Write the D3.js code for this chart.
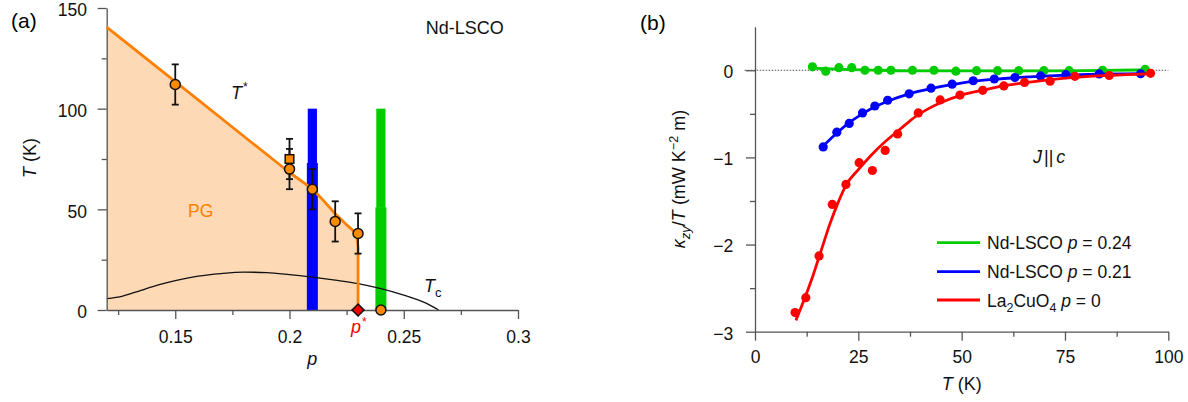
<!DOCTYPE html>
<html><head><meta charset="utf-8">
<script src="https://cdn.jsdelivr.net/npm/d3@7"></script>
<style>
body{margin:0;background:#fff;}
svg{display:block;font-family:"Liberation Sans",Arial,Helvetica,sans-serif;}
</style></head><body>
<svg id="chart" width="1188" height="402"></svg>
<script>
// ---------- panel (a): Nd-LSCO phase diagram ----------
const pTicks = [0.15, 0.2, 0.25, 0.3];
const pMinorTicks = [0.125, 0.175, 0.225, 0.275];
const tTicksA = [0, 50, 100, 150];
const tMinorTicksA = [25, 75, 125];

// pseudogap boundary T*(p), ending vertically at p*
const tStarP = [0.12, 0.15, 0.18, 0.20, 0.21, 0.215, 0.22, 0.225, 0.228, 0.2295, 0.23, 0.23];
const tStarT = [140.5, 113.4, 86.3, 68.3, 60.2, 54.2, 47.8, 42.3, 39.3, 36.5, 31, 0];

// superconducting dome Tc(p)
const tcP = [0.12, 0.127, 0.135, 0.143, 0.15, 0.16, 0.17, 0.18, 0.19, 0.2, 0.21, 0.22, 0.23, 0.24, 0.25, 0.26, 0.2653];
const tcT = [5.6, 6.9, 9.8, 12.6, 14.6, 16.8, 18.1, 18.8, 18.6, 17.6, 16.3, 14.8, 13.1, 10.6, 7.4, 3.3, 0];

// T* from measurements (circles) with error bars
const onsetP = [0.15, 0.20, 0.21, 0.22, 0.23];
const onsetT = [112, 70, 60, 44, 38];
const onsetErr = [10, 10, 10, 10, 10];
// T* from a second probe (square)
const squareP = [0.20];
const squareT = [75];
const squareErr = [10];
// critical point p* and the p = 0.24 sample at T = 0
const pStar = 0.23;
const groundP = [0.24];

// dopings of the thermal Hall samples
const barP = [0.21, 0.24];
const barBreakT = [73, 51];
const barTopT = [100, 100];
const barColors = ["#0000ff", "#00cc00"];

// ---------- panel (b): kappa_zy / T ----------
const tTicksB = [0, 25, 50, 75, 100];
const tMinorTicksB = [12.5, 37.5, 62.5, 87.5];
const kTicks = [0, -1, -2, -3];
const kMinorTicks = [-0.5, -1.5, -2.5];

const green24T = [13.9, 17.1, 20.3, 23.4, 26.6, 29.8, 32.9, 38.1, 43.3, 48.6, 53.6, 58.7, 63.8, 69.9, 76.0, 84.1, 94.4];
const green24K = [0.04, -0.01, 0.03, 0.03, 0.0, 0.0, 0.0, 0.0, 0.0, -0.01, -0.005, -0.005, -0.005, -0.005, -0.005, 0.0, 0.01];
const green24FitT = [13.9, 20, 30, 40, 60, 80, 94.4];
const green24FitK = [0.025, 0.012, 0.0, -0.008, -0.008, -0.005, 0.005];

const blue21T = [16.5, 19.8, 22.8, 26.0, 29.0, 32.1, 37.3, 42.6, 47.7, 52.8, 57.9, 62.9, 69.1, 75.2, 83.3, 93.3];
const blue21K = [-0.88, -0.71, -0.61, -0.49, -0.41, -0.344, -0.27, -0.205, -0.16, -0.12, -0.10, -0.084, -0.065, -0.05, -0.042, -0.04];
const blue21FitT = [16.5, 19.8, 22.8, 26.0, 29.0, 32.1, 37.3, 42.6, 47.7, 52.8, 57.9, 62.9, 69.1, 75.2, 83.3, 94.5];
const blue21FitK = [-0.87, -0.72, -0.6, -0.5, -0.42, -0.355, -0.27, -0.21, -0.165, -0.128, -0.104, -0.086, -0.07, -0.056, -0.045, -0.038];

const redT = [9.7, 12.3, 15.5, 18.7, 22.0, 25.2, 28.4, 31.5, 34.5, 39.5, 44.8, 49.6, 55.1, 60.2, 65.2, 71.4, 77.4, 85.7, 95.7];
const redK = [-2.78, -2.61, -2.13, -1.54, -1.31, -1.06, -1.15, -0.92, -0.73, -0.49, -0.34, -0.285, -0.23, -0.18, -0.14, -0.125, -0.07, -0.06, -0.035];
const redFitT = [9.9, 12, 14, 16, 18, 20, 22, 25, 28, 31, 34.5, 37, 39.5, 42, 45, 50, 55, 60, 65, 70, 75, 80, 85, 90, 96];
const redFitK = [-2.87, -2.62, -2.36, -2.07, -1.78, -1.53, -1.32, -1.14, -0.98, -0.84, -0.70, -0.60, -0.51, -0.44, -0.37, -0.285, -0.23, -0.18, -0.145, -0.115, -0.09, -0.072, -0.06, -0.05, -0.04];

const legendLabels = [
  {color: "#00cc00", parts: [["Nd-LSCO ", ""], ["p", "i"], [" = 0.24", ""]]},
  {color: "#0000ff", parts: [["Nd-LSCO ", ""], ["p", "i"], [" = 0.21", ""]]},
  {color: "#ff0000", parts: [["La", ""], ["2", "sub"], ["CuO", ""], ["4", "sub"], [" ", ""], ["p", "i"], [" = 0", ""]]}
];

const svg = d3.select("#chart");
svg.append("rect").attr("width", 1188).attr("height", 402).attr("fill", "#fff");

const FS = 17.5;
const axisColor = "#555";

function styleAxis(g) {
  g.selectAll("path.domain").attr("stroke", axisColor).attr("stroke-width", 1.3);
  g.selectAll(".tick line").attr("stroke", axisColor).attr("stroke-width", 1.3);
  g.selectAll(".tick text").attr("font-size", FS).attr("fill", "#111")
    .attr("font-family", "'Liberation Sans', Arial, sans-serif");
  g.attr("font-family", null).attr("font-size", null);
}
function minorAxis(g) {
  g.select("path.domain").remove();
  g.selectAll(".tick line").attr("stroke", axisColor).attr("stroke-width", 1.3);
}

// ===== panel (a) =====
const xA = d3.scaleLinear().domain([0.12, 0.3]).range([106.7, 518]);
const yA = d3.scaleLinear().domain([0, 150]).range([310, 8]);
const gA = svg.append("g");

const tStarPts = tStarP.map((p, i) => [p, tStarT[i]]);
const areaPts = tStarPts.concat([[pStar, 0], [0.12, 0]]);
gA.append("path")
  .attr("d", d3.line().x(d => xA(d[0])).y(d => yA(d[1]))(areaPts) + "Z")
  .attr("fill", "#fdd9b5");

// sample bars
barP.forEach((p, i) => {
  gA.append("rect")
    .attr("x", xA(p) - 5.5).attr("width", 11)
    .attr("y", yA(barBreakT[i])).attr("height", yA(0) - yA(barBreakT[i]))
    .attr("fill", barColors[i]);
  gA.append("rect")
    .attr("x", xA(p) - 4.6).attr("width", 9.2)
    .attr("y", yA(barTopT[i])).attr("height", yA(barBreakT[i]) - yA(barTopT[i]) + 0.5)
    .attr("fill", barColors[i]);
});

// Tc dome
gA.append("path")
  .attr("d", d3.line().x(d => xA(d[0])).y(d => yA(d[1])).curve(d3.curveMonotoneX)(tcP.map((p, i) => [p, tcT[i]])))
  .attr("fill", "none").attr("stroke", "#111").attr("stroke-width", 1.3);

// axes (a)
const axA_x = gA.append("g").attr("transform", `translate(0,${yA(0)})`)
  .call(d3.axisBottom(xA).tickValues(pTicks).tickSize(9).tickSizeOuter(0).tickPadding(11.6).tickFormat(d => String(d)));
styleAxis(axA_x);
gA.append("g").attr("transform", `translate(0,${yA(0)})`)
  .call(d3.axisBottom(xA).tickValues(pMinorTicks).tickSize(5).tickFormat("")).call(minorAxis);
const axA_y = gA.append("g").attr("transform", `translate(${xA(0.12)},0)`)
  .call(d3.axisLeft(yA).tickValues(tTicksA).tickSize(9).tickSizeOuter(0).tickPadding(10.7).tickFormat(d => String(d)));
styleAxis(axA_y);
axA_y.selectAll(".tick text").attr("dy", "0.45em");
gA.append("g").attr("transform", `translate(${xA(0.12)},0)`)
  .call(d3.axisLeft(yA).tickValues(tMinorTicksA).tickSize(5).tickFormat("")).call(minorAxis);

// T* line
gA.append("path")
  .attr("d", d3.line().x(d => xA(d[0])).y(d => yA(d[1]))(tStarPts))
  .attr("fill", "none").attr("stroke", "#ff8000").attr("stroke-width", 2.8)
  .attr("stroke-linejoin", "round");

// error bars
function errBar(p, t, e) {
  const x = xA(p);
  gA.append("line").attr("x1", x).attr("x2", x).attr("y1", yA(t - e)).attr("y2", yA(t + e))
    .attr("stroke", "#111").attr("stroke-width", 1.8);
  [t - e, t + e].forEach(v => gA.append("line").attr("x1", x - 3.5).attr("x2", x + 3.5)
    .attr("y1", yA(v)).attr("y2", yA(v)).attr("stroke", "#111").attr("stroke-width", 1.8));
}
squareP.forEach((p, i) => errBar(p, squareT[i], squareErr[i]));
onsetP.forEach((p, i) => errBar(p, onsetT[i], onsetErr[i]));

squareP.forEach((p, i) => gA.append("rect")
  .attr("x", xA(p) - 4.3).attr("y", yA(squareT[i]) - 4.3).attr("width", 8.6).attr("height", 8.6)
  .attr("fill", "#ff8a00").attr("stroke", "#111").attr("stroke-width", 1.5));
onsetP.forEach((p, i) => gA.append("circle")
  .attr("cx", xA(p)).attr("cy", yA(onsetT[i])).attr("r", 5)
  .attr("fill", "#ff8a00").attr("stroke", "#111").attr("stroke-width", 1.5));
groundP.forEach(p => gA.append("circle")
  .attr("cx", xA(p)).attr("cy", yA(0)).attr("r", 5)
  .attr("fill", "#ff8a00").attr("stroke", "#111").attr("stroke-width", 1.5));
gA.append("path")
  .attr("d", d3.symbol().type(d3.symbolSquare).size(72)())
  .attr("transform", `translate(${xA(pStar)},${yA(0)}) rotate(45)`)
  .attr("fill", "#ee0000").attr("stroke", "#111").attr("stroke-width", 1.5);

// labels (a)
svg.append("text").attr("x", 11).attr("y", 28).attr("font-size", 21).text("(a)");
gA.append("text").attr("x", 425.7).attr("y", 34).attr("font-size", 18).attr("fill", "#111").text("Nd-LSCO");
const tsl = gA.append("text").attr("x", 231).attr("y", 99).attr("font-size", 18).attr("fill", "#111");
tsl.append("tspan").attr("font-style", "italic").text("T");
tsl.append("tspan").attr("dy", -8).attr("dx", 1).attr("font-size", 12).text("*");
gA.append("text").attr("x", 188).attr("y", 216.7).attr("font-size", 17.5).attr("fill", "#ff8000").text("PG");
const tcl = gA.append("text").attr("x", 424).attr("y", 291.5).attr("font-size", 18).attr("fill", "#111");
tcl.append("tspan").attr("font-style", "italic").text("T");
tcl.append("tspan").attr("dy", 5).attr("font-size", 13).text("c");
const psl = gA.append("text").attr("x", 351).attr("y", 333).attr("font-size", 18).attr("fill", "#ee0000");
psl.append("tspan").attr("font-style", "italic").text("p");
psl.append("tspan").attr("dy", -7).attr("dx", 1).attr("font-size", 12).text("*");
gA.append("text").attr("x", xA(0.21)).attr("y", 365).attr("text-anchor", "middle")
  .attr("font-size", 18).attr("font-style", "italic").attr("fill", "#111").text("p");
const yla = gA.append("text").attr("transform", "translate(36,158) rotate(-90)")
  .attr("text-anchor", "middle").attr("font-size", 18).attr("fill", "#111");
yla.append("tspan").attr("font-style", "italic").text("T");
yla.append("tspan").text(" (K)");

// ===== panel (b) =====
const xB = d3.scaleLinear().domain([0, 100]).range([755, 1168.3]);
const yB = d3.scaleLinear().domain([-3, 0.5]).range([331.7, 26.7]);
const gB = svg.append("g");

// zero reference
gB.append("line").attr("x1", xB(-2.5)).attr("x2", xB(100)).attr("y1", yB(0)).attr("y2", yB(0))
  .attr("stroke", "#555").attr("stroke-width", 1).attr("stroke-dasharray", "1.5,1.5");

const axB_x = gB.append("g").attr("transform", `translate(0,${yB(-3)})`)
  .call(d3.axisBottom(xB).tickValues(tTicksB).tickSize(9).tickSizeOuter(0).tickPadding(9.6).tickFormat(d => String(d)));
styleAxis(axB_x);
gB.append("g").attr("transform", `translate(0,${yB(-3)})`)
  .call(d3.axisBottom(xB).tickValues(tMinorTicksB).tickSize(5).tickFormat("")).call(minorAxis);
const axB_y = gB.append("g").attr("transform", `translate(${xB(0)},0)`)
  .call(d3.axisLeft(yB).tickValues(kTicks).tickSize(9).tickSizeOuter(0).tickPadding(12.7)
    .tickFormat(d => d < 0 ? "\u2212" + Math.abs(d) : String(d)));
styleAxis(axB_y);
axB_y.selectAll(".tick text").attr("dy", "0.42em");
gB.append("g").attr("transform", `translate(${xB(0)},0)`)
  .call(d3.axisLeft(yB).tickValues(kMinorTicks).tickSize(5).tickFormat("")).call(minorAxis);

const lineB = d3.line().x(d => xB(d[0])).y(d => yB(d[1])).curve(d3.curveMonotoneX);
const seriesB = [
  {T: green24T, K: green24K, fT: green24FitT, fK: green24FitK, color: "#00cc00"},
  {T: blue21T, K: blue21K, fT: blue21FitT, fK: blue21FitK, color: "#0000ff"},
  {T: redT, K: redK, fT: redFitT, fK: redFitK, color: "#ff0000"}
];
seriesB.forEach(s => {
  gB.append("path").attr("d", lineB(s.fT.map((t, i) => [t, s.fK[i]])))
    .attr("fill", "none").attr("stroke", s.color).attr("stroke-width", 2.8);
  gB.selectAll(null).data(s.T.map((t, i) => [t, s.K[i]])).join("circle")
    .attr("cx", d => xB(d[0])).attr("cy", d => yB(d[1])).attr("r", 4.6).attr("fill", s.color);
});

// labels (b)
svg.append("text").attr("x", 640).attr("y", 30).attr("font-size", 21).text("(b)");
const jl = gB.append("text").attr("x", 1033).attr("y", 163).attr("font-size", 18).attr("fill", "#111");
jl.append("tspan").attr("font-style", "italic").text("J");
jl.append("tspan").attr("dx", 2).text("||");
jl.append("tspan").attr("dx", 3).attr("font-style", "italic").text("c");

const legY = [242.7, 271.7, 300];
legendLabels.forEach((L, i) => {
  gB.append("line").attr("x1", 937).attr("x2", 980).attr("y1", legY[i]).attr("y2", legY[i])
    .attr("stroke", L.color).attr("stroke-width", 2.8);
  const t = gB.append("text").attr("x", 987).attr("y", legY[i] + 6.5).attr("font-size", 17.5).attr("fill", "#111");
  let shifted = false;
  L.parts.forEach(([s, kind]) => {
    const ts = t.append("tspan").text(s);
    if (kind === "i") ts.attr("font-style", "italic");
    if (kind === "sub") {
      ts.attr("font-size", 12.5);
      if (!shifted) { ts.attr("dy", 5); shifted = true; }
    } else if (shifted) { ts.attr("dy", -5); shifted = false; }
  });
});

gB.append("text").attr("x", xB(50)).attr("y", 390).attr("text-anchor", "middle")
  .attr("font-size", 18).attr("fill", "#111")
  .call(t => { t.append("tspan").attr("font-style", "italic").text("T"); t.append("tspan").text(" (K)"); });

const ylb = gB.append("text").attr("transform", "translate(685,179) rotate(-90)")
  .attr("text-anchor", "middle").attr("font-size", 18).attr("fill", "#111");
ylb.append("tspan").attr("font-style", "italic").text("\u03BA");
ylb.append("tspan").attr("font-style", "italic").attr("font-size", 13).attr("dy", 5).text("zy");
ylb.append("tspan").attr("dy", -5).text("/");
ylb.append("tspan").attr("font-style", "italic").text("T");
ylb.append("tspan").text(" (mW K");
ylb.append("tspan").attr("font-size", 12.5).attr("dy", -7).text("\u22122");
ylb.append("tspan").attr("dy", 7).text(" m)");
</script>
</body></html>
